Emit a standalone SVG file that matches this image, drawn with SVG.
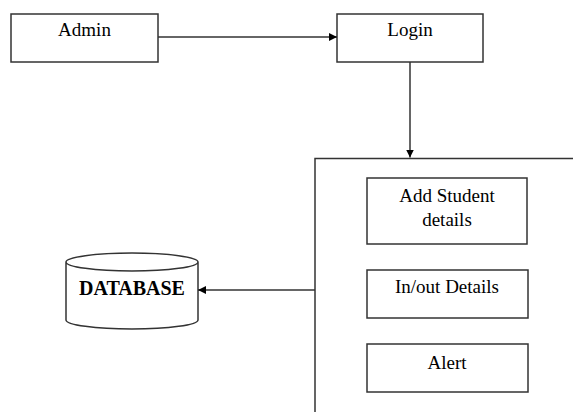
<svg xmlns="http://www.w3.org/2000/svg" width="573" height="412" viewBox="0 0 573 412">
<style>
.box{fill:#fff;stroke:#333;stroke-width:1.5}
.t{font-family:"Liberation Serif","Times New Roman",serif;font-size:19px;fill:#000;text-anchor:middle}
.b{font-weight:bold;font-size:20px}
.c{fill:none;stroke:#333;stroke-width:1.5}
</style>
<defs>
<marker id="ah" viewBox="0 0 10 10" refX="10" refY="5" markerWidth="8" markerHeight="8" markerUnits="userSpaceOnUse" orient="auto">
<path d="M0,0 L10,5 L0,10 z" fill="#000"/>
</marker>
</defs>
<rect width="573" height="412" fill="#fff"/>
<g id="container"><path class="c" d="M315,412 V158.5 H574"/></g>
<g id="admin"><rect class="box" x="11" y="14" width="147" height="48"/><text class="t" x="84.5" y="36">Admin</text></g>
<g id="login"><rect class="box" x="337" y="14" width="146" height="48"/><text class="t" x="410" y="36">Login</text></g>
<g id="addstudent"><rect class="box" x="367" y="178" width="160" height="66"/><text class="t" x="447" y="202">Add Student</text><text class="t" x="447" y="226">details</text></g>
<g id="inout"><rect class="box" x="367" y="270" width="161" height="48"/><text class="t" x="447" y="293">In/out Details</text></g>
<g id="alert"><rect class="box" x="367" y="344" width="161" height="48"/><text class="t" x="447" y="369">Alert</text></g>
<g id="database">
<path class="box" d="M66,262 V320 A66,9 0 0 0 198,320 V262 A66,9 0 0 0 66,262 A66,9 0 0 0 198,262"/>
<text class="t b" x="132" y="295">DATABASE</text>
</g>
<g id="connectors">
<line class="c" x1="158" y1="37" x2="337" y2="37" marker-end="url(#ah)"/>
<line class="c" x1="410" y1="62" x2="410" y2="157.5" marker-end="url(#ah)"/>
<line class="c" x1="315" y1="290" x2="198" y2="290" marker-end="url(#ah)"/>
</g>
</svg>
